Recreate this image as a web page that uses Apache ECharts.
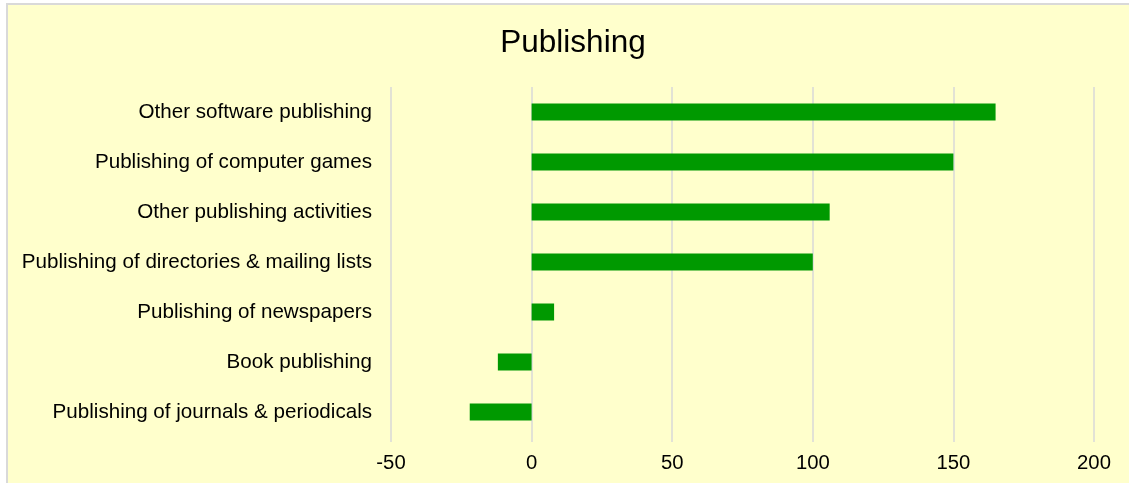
<!DOCTYPE html>
<html>
<head>
<meta charset="utf-8">
<script src="https://cdn.jsdelivr.net/npm/echarts@6/dist/echarts.min.js"></script>
<style>
  html, body { margin: 0; padding: 0; background: #ffffff; }
  #bg { position: absolute; left: 6px; top: 3px; right: 0; bottom: 0;
        border-left: 2px solid #d9d9d9; border-top: 2px solid #d9d9d9; background: #ffffcc; }
  #chart { position: absolute; left: 0; top: 0; width: 1129px; height: 483px; }
</style>
</head>
<body>
<div id="bg"></div>
<div id="chart"></div>
<script>
const titleText = 'Publishing';
const categories = [
  'Other software publishing',
  'Publishing of computer games',
  'Other publishing activities',
  'Publishing of directories & mailing lists',
  'Publishing of newspapers',
  'Book publishing',
  'Publishing of journals & periodicals'
];
const values = [165, 150, 106, 100, 8, -12, -22];
const axisMin = -50, axisMax = 200, axisStep = 50;

const chart = echarts.init(document.getElementById('chart'), null, { renderer: 'canvas' });
const font = '"Liberation Sans", Arial, sans-serif';
chart.setOption({
  backgroundColor: 'transparent',
  animation: false,
  title: {
    text: titleText,
    left: 568,
    top: 22,
    textAlign: 'center',
    textStyle: { fontFamily: font, fontSize: 31.5, fontWeight: 'normal', color: '#000000' }
  },
  grid: { left: 391, right: 35, top: 87, bottom: 46, containLabel: false },
  xAxis: {
    type: 'value',
    min: axisMin, max: axisMax, interval: axisStep,
    axisLine: { show: false },
    axisTick: { show: true, length: 5, lineStyle: { color: '#d9d9d9', width: 1.5 } },
    splitLine: { show: true, lineStyle: { color: '#d9d9d9', width: 1.5 } },
    axisLabel: { fontFamily: font, fontSize: 20.3, color: '#000000', margin: 16 }
  },
  yAxis: {
    type: 'category',
    data: categories,
    inverse: true,
    axisLine: { show: false },
    axisTick: { show: false },
    splitLine: { show: false },
    axisLabel: { fontFamily: font, fontSize: 20.6, color: '#000000', margin: 19 }
  },
  series: [{
    type: 'bar',
    data: values,
    barWidth: 17,
    itemStyle: { color: '#009900' }
  }]
});
</script>
</body>
</html>
